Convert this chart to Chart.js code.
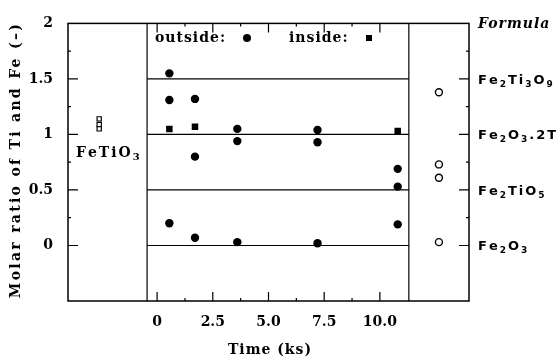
<!DOCTYPE html>
<html>
<head>
<meta charset="utf-8">
<script src="https://cdn.jsdelivr.net/npm/chart.js@4.4.1/dist/chart.umd.min.js"></script>
<style>
  html, body { margin: 0; padding: 0; background: #fff; }
  #wrap { width: 556px; height: 358px; }
</style>
</head>
<body>
<div id="wrap"><canvas id="chart" width="556" height="358"></canvas></div>
<script>
// muestras: tiempo (ks) y razon molar Ti/Fe
const outsideTime  = [0.55, 0.55, 0.55, 1.7, 1.7, 1.7, 3.6, 3.6, 3.6, 7.2, 7.2, 7.2, 10.8, 10.8, 10.8];
const outsideRatio = [1.55, 1.31, 0.20, 1.32, 0.80, 0.07, 1.05, 0.94, 0.03, 1.04, 0.93, 0.02, 0.69, 0.53, 0.19];
const insideTime  = [0.55, 1.7, 10.8];
const insideRatio = [1.05, 1.07, 1.03];

// panel izquierdo (FeTiO3) y panel derecho (fases de referencia)
const fetio3Time  = [-2.6, -2.6, -2.6];
const fetio3Ratio = [1.14, 1.09, 1.05];
const phaseTime   = [12.65, 12.65, 12.65, 12.65];
const phaseRatio  = [1.38, 0.73, 0.61, 0.03];

// lineas de fases y etiquetas
const phaseLevels = [1.5, 1, 0.5, 0];
const phaseNames  = ["Fe2Ti3O9", "Fe2O3.2TiO2", "Fe2TiO5", "Fe2O3"];
const panelEdges  = [-0.45, 11.3];

// ticks
const xTicks      = [0, 2.5, 5, 7.5, 10];
const xTickLabels = ["0", "2.5", "5.0", "7.5", "10.0"];
const xMinor      = [1.25, 3.75, 6.25, 8.75];
const yTicks      = [0, 0.5, 1, 1.5, 2];
const yTickLabels = ["0", "0.5", "1", "1.5", "2"];
const yMinor      = [0.25, 0.75, 1.25, 1.75];

const serif = { family: "DejaVu Serif", size: 14, weight: "bold" };

function pts(xs, ys) {
  return xs.map((x, i) => ({ x: x, y: ys[i] }));
}

const datasets = [];

// lineas horizontales de las fases
phaseLevels.forEach(lv => {
  datasets.push({
    type: "line",
    data: [{ x: panelEdges[0], y: lv }, { x: panelEdges[1], y: lv }],
    borderColor: "#000",
    borderWidth: 1.2,
    pointRadius: 0
  });
});

// separadores verticales
panelEdges.forEach(e => {
  datasets.push({
    type: "line",
    data: [{ x: e, y: -0.5 }, { x: e, y: 2 }],
    borderColor: "#000",
    borderWidth: 1.2,
    pointRadius: 0
  });
});

datasets.push({
  label: "outside",
  data: pts(outsideTime, outsideRatio),
  pointStyle: "circle",
  pointRadius: 4.2,
  backgroundColor: "#000",
  borderColor: "#000",
  borderWidth: 0
});
datasets.push({
  label: "inside",
  data: pts(insideTime, insideRatio),
  pointStyle: "rect",
  pointRadius: 4.6,
  backgroundColor: "#000",
  borderColor: "#000",
  borderWidth: 0
});
datasets.push({
  label: "FeTiO3",
  data: pts(fetio3Time, fetio3Ratio),
  pointStyle: "rect",
  pointRadius: 3,
  backgroundColor: "#fff",
  borderColor: "#000",
  borderWidth: 1.2
});
datasets.push({
  label: "phases",
  data: pts(phaseTime, phaseRatio),
  pointStyle: "circle",
  pointRadius: 3.5,
  backgroundColor: "#fff",
  borderColor: "#000",
  borderWidth: 1.4
});

// texto con subindices (Fe2O3 etc.)
function drawFormula(ctx, text, x, y, mainFont, subFont, spacing) {
  let cx = x;
  let prev = "";
  for (const ch of text) {
    const isSub = /[0-9]/.test(ch) && /[A-Za-z]/.test(prev);
    ctx.font = isSub ? subFont : mainFont;
    ctx.fillText(ch, cx, isSub ? y + 3 : y);
    cx += ctx.measureText(ch).width + spacing;
    prev = ch;
  }
}

const framePlugin = {
  id: "frame",
  beforeDatasetsDraw(chart) {
    const ctx = chart.ctx;
    const a = chart.chartArea;
    const xs = chart.scales.x;
    const ys = chart.scales.y;
    ctx.save();
    ctx.strokeStyle = "#000";
    ctx.lineWidth = 1.5;
    ctx.strokeRect(a.left, a.top, a.right - a.left, a.bottom - a.top);
    ctx.lineWidth = 1.2;
    ctx.beginPath();
    const tickX = (v, len) => {
      const px = xs.getPixelForValue(v);
      ctx.moveTo(px, a.bottom); ctx.lineTo(px, a.bottom - len);
      ctx.moveTo(px, a.top); ctx.lineTo(px, a.top + len);
    };
    const tickY = (v, len) => {
      const py = ys.getPixelForValue(v);
      ctx.moveTo(a.left, py); ctx.lineTo(a.left + len, py);
      ctx.moveTo(a.right, py); ctx.lineTo(a.right - len, py);
    };
    xTicks.forEach(v => tickX(v, 9));
    xMinor.forEach(v => tickX(v, 3));
    yTicks.slice(0, 4).forEach(v => tickY(v, 10));
    yMinor.forEach(v => tickY(v, 3));
    ctx.stroke();
    ctx.restore();
  },
  afterDraw(chart) {
    const ctx = chart.ctx;
    const a = chart.chartArea;
    const ys = chart.scales.y;
    ctx.save();
    ctx.fillStyle = "#000";
    ctx.textBaseline = "alphabetic";

    // titulos de ejes
    ctx.font = "bold 14px 'DejaVu Serif'";
    ctx.letterSpacing = "2.3px";
    ctx.textAlign = "center";
    ctx.save();
    ctx.translate(16, 160);
    ctx.rotate(-Math.PI / 2);
    ctx.textBaseline = "middle";
    ctx.fillText("Molar ratio of Ti and Fe (\u2013)", 0, 0);
    ctx.restore();
    ctx.letterSpacing = "1px";
    ctx.textBaseline = "middle";
    ctx.fillText("Time (ks)", 270, 350);

    // leyenda dentro del grafico
    ctx.textAlign = "left";
    ctx.textBaseline = "alphabetic";
    ctx.font = "bold 14px 'DejaVu Serif'";
    ctx.letterSpacing = "1px";
    ctx.fillText("outside:", 155, 42);
    ctx.fillText("inside:", 289, 42);
    ctx.beginPath();
    ctx.arc(247, 38, 4, 0, Math.PI * 2);
    ctx.fill();
    ctx.fillRect(366, 35, 6, 6);

    // Formula
    ctx.font = "italic bold 14px 'DejaVu Serif'";
    ctx.letterSpacing = "1px";
    ctx.fillText("Formula", 478, 28);

    // nombres de fases a la derecha
    ctx.letterSpacing = "0px";
    phaseLevels.forEach((lv, i) => {
      const py = ys.getPixelForValue(lv) + 5;
      drawFormula(ctx, phaseNames[i], a.right + 9, py,
        "bold 13px 'DejaVu Sans'", "bold 9px 'DejaVu Sans'", 2);
    });

    // FeTiO3 en el panel izquierdo
    drawFormula(ctx, "FeTiO3", 76, 157,
      "bold 14px 'DejaVu Serif'", "bold 10px 'DejaVu Serif'", 2);
    ctx.restore();
  }
};

new Chart(document.getElementById("chart"), {
  type: "scatter",
  data: { datasets: datasets },
  options: {
    responsive: false,
    animation: false,
    layout: { padding: { top: 15, right: 87, left: 0, bottom: 0 } },
    plugins: {
      legend: { display: false },
      tooltip: { enabled: false }
    },
    scales: {
      x: {
        type: "linear",
        position: "bottom",
        min: -4,
        max: 14,
        grid: { display: false, drawTicks: false },
        border: { display: false },
        ticks: {
          padding: 13,
          color: "#000",
          font: serif,
          autoSkip: false,
          maxRotation: 0,
          callback: v => {
            const i = xTicks.indexOf(v);
            return i < 0 ? "" : xTickLabels[i];
          }
        },
        afterBuildTicks: s => { s.ticks = xTicks.map(v => ({ value: v })); },
        afterFit: s => { s.height = 57; }
      },
      y: {
        type: "linear",
        position: "left",
        min: -0.5,
        max: 2,
        grid: { display: false, drawTicks: false },
        border: { display: false },
        ticks: {
          padding: 15,
          color: "#000",
          font: serif,
          autoSkip: false,
          callback: v => {
            const i = yTicks.indexOf(v);
            return i < 0 ? "" : yTickLabels[i];
          }
        },
        afterBuildTicks: s => { s.ticks = yTicks.map(v => ({ value: v })); },
        afterFit: s => { s.height = s.height; s.width = 68; }
      }
    }
  },
  plugins: [framePlugin]
});
</script>
</body>
</html>
